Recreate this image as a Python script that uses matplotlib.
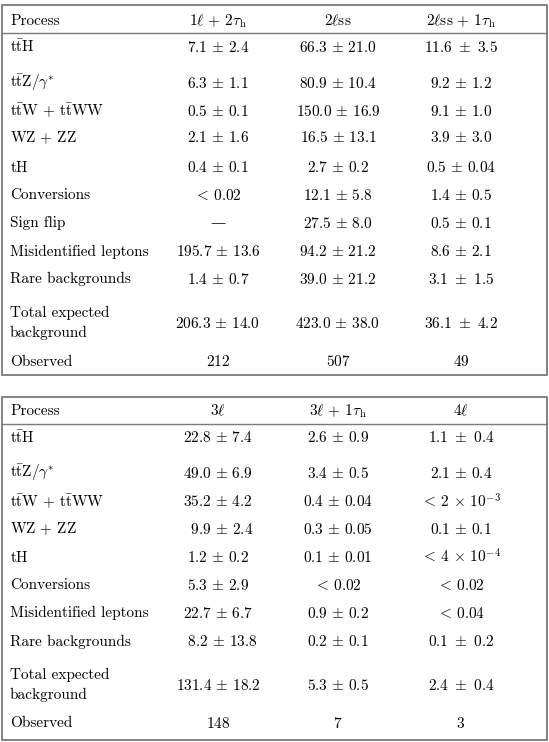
import matplotlib
matplotlib.use("Agg")
import matplotlib.pyplot as plt
from matplotlib.patches import Rectangle

plt.rcParams['font.family'] = ['cmr10', 'DejaVu Serif']
plt.rcParams['mathtext.fontset'] = 'cm'
plt.rcParams['axes.unicode_minus'] = False

# table contents
processes = [r"$\mathrm{t\bar{t}H}$", r"$\mathrm{t\bar{t}Z}/\gamma^{*}$",
             r"$\mathrm{t\bar{t}W}\,+\,\mathrm{t\bar{t}WW}$", r"$\mathrm{WZ}\,+\,\mathrm{ZZ}$",
             r"$\mathrm{tH}$", "Conversions", "Sign flip", "Misidentified leptons",
             "Rare backgrounds", "Total expected\nbackground", "Observed"]

channels_top = [r"$1\ell\,+\,2\tau_{\mathrm{h}}$", r"$2\ell\mathrm{ss}$",
                r"$2\ell\mathrm{ss}\,+\,1\tau_{\mathrm{h}}$"]
channels_bottom = [r"$3\ell$", r"$3\ell\,+\,1\tau_{\mathrm{h}}$", r"$4\ell$"]

ch_1l2tau = [r"$7.1\,\pm\,2.4$", r"$6.3\,\pm\,1.1$", r"$0.5\,\pm\,0.1$",
             r"$2.1\,\pm\,1.6$", r"$0.4\,\pm\,0.1$", r"$<\,0.02$", "—",
             r"$195.7\,\pm\,13.6$", r"$1.4\,\pm\,0.7$", r"$206.3\,\pm\,14.0$", r"$212$"]
ch_2lss = [r"$66.3\,\pm\,21.0$", r"$80.9\,\pm\,10.4$", r"$150.0\,\pm\,16.9$",
           r"$16.5\,\pm\,13.1$", r"$2.7\,\pm\,0.2$", r"$12.1\,\pm\,5.8$",
           r"$27.5\,\pm\,8.0$", r"$94.2\,\pm\,21.2$", r"$39.0\,\pm\,21.2$",
           r"$423.0\,\pm\,38.0$", r"$507$"]
ch_2lss1tau = [r"$11.6\ \pm\ 3.5$", r"$9.2\,\pm\,1.2$", r"$9.1\,\pm\,1.0$",
               r"$3.9\,\pm\,3.0$", r"$0.5\,\pm\,0.04$", r"$1.4\,\pm\,0.5$",
               r"$0.5\,\pm\,0.1$", r"$8.6\,\pm\,2.1$", r"$3.1\ \pm\ 1.5$",
               r"$36.1\ \pm\ 4.2$", r"$49$"]

bottom_processes = [p for p in processes if p != "Sign flip"]
ch_3l = [r"$22.8\,\pm\,7.4$", r"$49.0\,\pm\,6.9$", r"$35.2\,\pm\,4.2$",
         r"$\ \ 9.9\,\pm\,2.4$", r"$1.2\,\pm\,0.2$", r"$5.3\,\pm\,2.9$",
         r"$22.7\,\pm\,6.7$", r"$\ \ 8.2\,\pm\,13.8$", r"$131.4\,\pm\,18.2$", r"$148$"]
ch_3l1tau = [r"$2.6\,\pm\,0.9$", r"$3.4\,\pm\,0.5$", r"$0.4\,\pm\,0.04$",
             r"$0.3\,\pm\,0.05$", r"$0.1\,\pm\,0.01$", r"$<\,0.02$", r"$0.9\,\pm\,0.2$",
             r"$0.2\,\pm\,0.1$", r"$5.3\,\pm\,0.5$", r"$7$"]
ch_4l = [r"$1.1\ \pm\ 0.4$", r"$2.1\,\pm\,0.4$", r"$<\,2\,\times\,10^{-3}$",
         r"$0.1\,\pm\,0.1$", r"$<\,4\,\times\,10^{-4}$", r"$<\,0.02$", r"$<\,0.04$",
         r"$0.1\ \pm\ 0.2$", r"$2.4\ \pm\ 0.4$", r"$3$"]

# layout (pixels)
W, H = 549, 742
col_x = [218, 338, 461]
label_x = 10
fs = 11
grey = "#7a7a7a"


def draw_table(ax, top, bottom, header_y, line_y, row_y, headers, labels, columns):
    ax.add_patch(Rectangle((2, top), W - 4, bottom - top, fill=False,
                           edgecolor=grey, linewidth=1.3))
    ax.plot([2, W - 2], [line_y, line_y], color=grey, linewidth=1.0)
    ax.text(label_x, header_y, "Process", fontsize=fs, va="center", ha="left")
    for x, h in zip(col_x, headers):
        ax.text(x, header_y, h, fontsize=fs, va="center", ha="center")
    for y, lab in zip(row_y, labels):
        ax.text(label_x, y, lab, fontsize=fs, va="center", ha="left", linespacing=1.55)
    for x, col in zip(col_x, columns):
        for y, val in zip(row_y, col):
            ax.text(x, y, val, fontsize=fs, va="center", ha="center")


fig = plt.figure(figsize=(W / 100, H / 100), dpi=100)
ax = fig.add_axes([0, 0, 1, 1])
ax.set_xlim(0, W)
ax.set_ylim(H, 0)
ax.axis("off")

rows_top = [47, 83, 111, 138, 167, 195, 223, 252, 279, 323, 362]
draw_table(ax, 5, 375, 21, 33, rows_top, channels_top, processes,
           [ch_1l2tau, ch_2lss, ch_2lss1tau])

rows_bottom = [438, 473, 502, 529, 557, 585, 613, 642, 685, 723]
draw_table(ax, 397, 740, 411, 424, rows_bottom, channels_bottom, bottom_processes,
           [ch_3l, ch_3l1tau, ch_4l])

fig.savefig("out.png", dpi=100)
